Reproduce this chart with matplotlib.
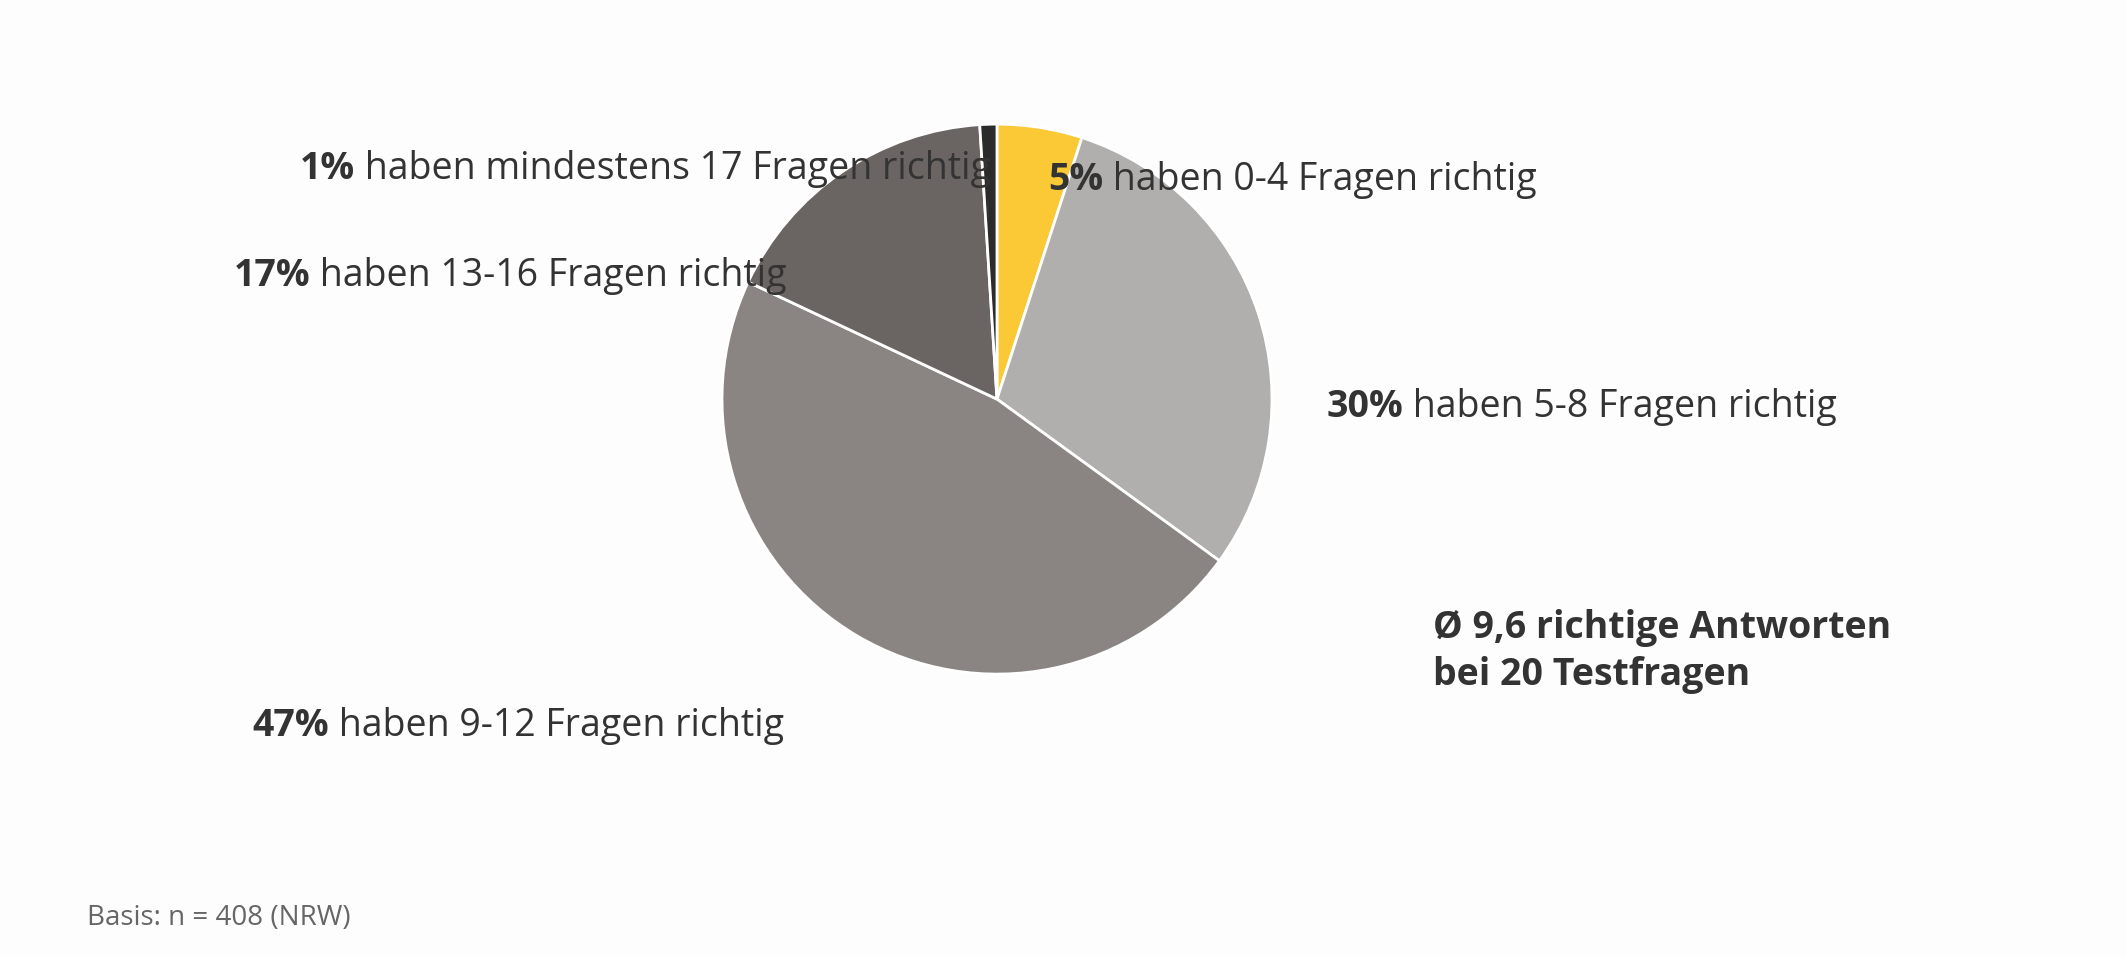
import matplotlib
matplotlib.use('Agg')
import matplotlib.pyplot as plt

shares = [5, 30, 47, 17, 1]
colors = ['#FBC935', '#B0AFAE', '#8A8583', '#6A6462', '#2B2B2B']
bold_parts = ['5%', '30%', '47%', '17%', '1%']
rest_parts = [' haben 0-4 Fragen richtig', ' haben 5-8 Fragen richtig',
              ' haben 9-12 Fragen richtig', ' haben 13-16 Fragen richtig',
              ' haben mindestens 17 Fragen richtig']
# label anchor (fig coords) and alignment
label_pos = [(0.493, 0.812, 'left'), (0.624, 0.575, 'left'), (0.369, 0.241, 'right'),
             (0.370, 0.712, 'right'), (0.466, 0.823, 'right')]

plt.rcParams['font.family'] = ['Open Sans', 'DejaVu Sans']
fig = plt.figure(figsize=(21.26, 9.57), dpi=100)
fig.patch.set_facecolor('#FDFDFD')

ax = fig.add_axes([0.3396, 0.2956, 0.2587, 0.5747])
ax.pie(shares, colors=colors, startangle=90, counterclock=False, radius=1,
       wedgeprops=dict(edgecolor='white', linewidth=2))
ax.set_xlim(-1, 1)
ax.set_ylim(-1, 1)
ax.set_aspect('equal')
ax.axis('off')

fs = 27
tc = '#333333'
fig.canvas.draw()
r = fig.canvas.get_renderer()
W = fig.get_figwidth() * fig.dpi
for b, rest, (x, y, ha) in zip(bold_parts, rest_parts, label_pos):
    if ha == 'left':
        t = fig.text(x, y, b, fontsize=fs, weight='bold', color=tc, va='center', ha='left')
        w = t.get_window_extent(r).width / W
        fig.text(x + w, y, rest, fontsize=fs, color=tc, va='center', ha='left')
    else:
        t = fig.text(x, y, rest, fontsize=fs, color=tc, va='center', ha='right')
        w = t.get_window_extent(r).width / W
        fig.text(x - w, y, b, fontsize=fs, weight='bold', color=tc, va='center', ha='right')

# leader line for 1% slice
fig.add_artist(plt.Line2D([0.4645, 0.4645], [0.79, 0.773], color=tc, lw=1.5))

fig.text(0.674, 0.319, 'Ø 9,6 richtige Antworten\nbei 20 Testfragen', fontsize=fs,
         weight='bold', color=tc, va='center', ha='left', linespacing=1.3)
fig.text(0.041, 0.041, 'Basis: n = 408 (NRW)', fontsize=20, color='#666666',
         va='center', ha='left')

fig.savefig('out.png', dpi=100, facecolor=fig.get_facecolor())
